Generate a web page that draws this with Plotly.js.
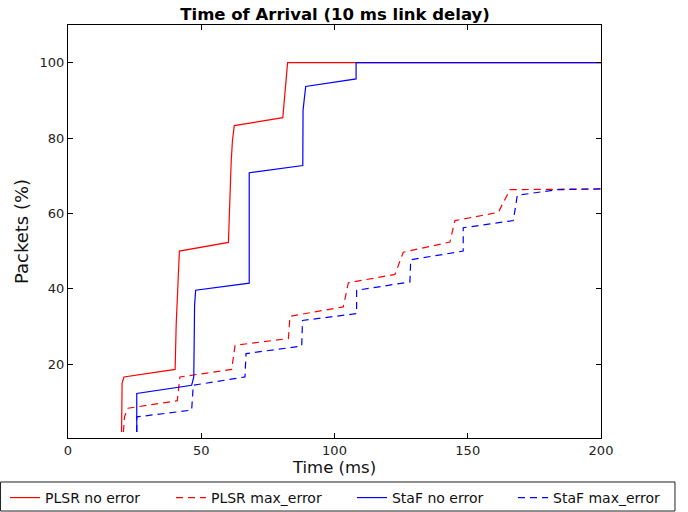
<!DOCTYPE html>
<html>
<head>
<meta charset="utf-8">
<script src="https://cdn.plot.ly/plotly-3.0.1.min.js"></script>
<style>html,body{margin:0;padding:0;background:#fff;}#chart{width:688px;height:512px;}</style>
</head>
<body>
<div id="chart"></div>
<script>
// PLSR no error (solid red)
const plsrNoErrT = [20.1, 20.3, 21.0, 40.2, 40.6, 41.1, 41.8, 60.2, 60.8, 61.2, 61.7, 62.4, 80.6, 81.4, 82.4, 200];
const plsrNoErrV = [2.0, 15.0, 16.6, 18.6, 30.6, 37.7, 50.0, 52.3, 66.1, 73.2, 79.3, 83.3, 85.4, 92.6, 100, 100];
// PLSR max_error (dashed red)
const plsrMaxErrT = [20.8, 21.2, 22.5, 41.0, 41.5, 42.0, 61.4, 62.0, 62.7, 82.7, 83.3, 103.3, 104.2, 105.2, 122.7, 124.5, 125.8, 143.3, 145.2, 161.5, 165.8, 200];
const plsrMaxErrV = [2.0, 6.0, 8.3, 10.3, 13.5, 16.6, 18.6, 22.0, 25.0, 26.8, 32.7, 35.2, 38.5, 41.6, 43.8, 47.0, 49.7, 52.4, 58.1, 60.3, 66.3, 66.5];
// StaF no error (solid blue)
const stafNoErrT = [25.8, 25.8, 46.4, 47.2, 47.5, 47.9, 68.0, 68.0, 88.1, 88.2, 88.6, 89.2, 108.1, 108.1, 200];
const stafNoErrV = [2.0, 12.2, 14.4, 16.6, 35.6, 39.6, 41.5, 70.8, 72.7, 87.3, 90.0, 93.7, 95.7, 100, 100];
// StaF max_error (dashed blue)
const stafMaxErrT = [25.8, 25.8, 46.4, 47.0, 66.4, 66.8, 87.7, 88.0, 108.3, 108.3, 128.3, 128.6, 148.3, 148.3, 167.1, 168.6, 183.4, 200];
const stafMaxErrV = [2.0, 6.0, 7.8, 14.4, 16.6, 22.8, 24.8, 31.6, 33.4, 39.6, 41.8, 47.7, 50.0, 56.2, 58.1, 64.8, 66.3, 66.5];

const seriesNames = ['PLSR no error', 'PLSR max_error', 'StaF no error', 'StaF max_error'];
const xTicks = [0, 50, 100, 150, 200];
const yTicks = [20, 40, 60, 80, 100];

const font = 'DejaVu Sans, sans-serif';
const traces = [
  {x: plsrNoErrT, y: plsrNoErrV, name: seriesNames[0], legend: 'legend', mode: 'lines', line: {color: '#ff0000', width: 1.2}},
  {x: plsrMaxErrT, y: plsrMaxErrV, name: seriesNames[1], legend: 'legend2', mode: 'lines', line: {color: '#ff0000', width: 1.2, dash: '7px,5px'}},
  {x: stafNoErrT, y: stafNoErrV, name: seriesNames[2], legend: 'legend3', mode: 'lines', line: {color: '#0000ff', width: 1.2}},
  {x: stafMaxErrT, y: stafMaxErrV, name: seriesNames[3], legend: 'legend4', mode: 'lines', line: {color: '#0000ff', width: 1.2, dash: '7px,5px'}}
];

function legendAt(xPaper) {
  return {
    orientation: 'h', x: xPaper, xanchor: 'left', y: -0.1065, yanchor: 'top',
    borderwidth: 0, bgcolor: 'rgba(0,0,0,0)',
    font: {family: font, size: 14, color: '#111'}, itemwidth: 30
  };
}

const layout = {
  width: 688, height: 512,
  margin: {l: 68, r: 87, t: 25, b: 74, autoexpand: false},
  paper_bgcolor: '#fff', plot_bgcolor: '#fff',
  font: {family: font, size: 13, color: '#222'},
  title: {text: '<b>Time of Arrival (10 ms link delay)</b>', font: {family: font, size: 16.5, color: '#000'}, x: 0.487, xanchor: 'center', y: 0.972, yanchor: 'middle'},
  xaxis: {
    range: [0, 200], tickvals: xTicks, ticktext: xTicks.map(String),
    ticks: 'inside', ticklen: 5, tickcolor: '#000', showline: true, linecolor: '#000', linewidth: 1, mirror: 'ticks',
    showgrid: false, zeroline: false, automargin: false,
    title: {text: 'Time (ms)', font: {family: font, size: 16.5, color: '#111'}, standoff: 4},
    tickfont: {family: font, size: 13, color: '#222'}
  },
  yaxis: {
    range: [0.4, 110], tickvals: yTicks, ticktext: yTicks.map(String),
    ticks: 'inside', ticklen: 5, tickcolor: '#000', showline: true, linecolor: '#000', linewidth: 1, mirror: 'ticks',
    showgrid: false, zeroline: false, automargin: false,
    title: {text: 'Packets (%)', font: {family: font, size: 18, color: '#111'}, standoff: 6},
    tickfont: {family: font, size: 13, color: '#222'}
  },
  showlegend: true,
  legend: legendAt(-0.1182),
  legend2: legendAt(0.1932),
  legend3: legendAt(0.5328),
  legend4: legendAt(0.8349),
  shapes: [{
    type: 'rect', xref: 'paper', yref: 'paper',
    x0: -0.1266, x1: 1.1388, y0: -0.1768, y1: -0.1065,
    line: {color: '#222', width: 1}, fillcolor: 'rgba(0,0,0,0)', layer: 'below'
  }]
};

Plotly.newPlot('chart', traces, layout, {staticPlot: true, displayModeBar: false});
</script>
</body>
</html>
